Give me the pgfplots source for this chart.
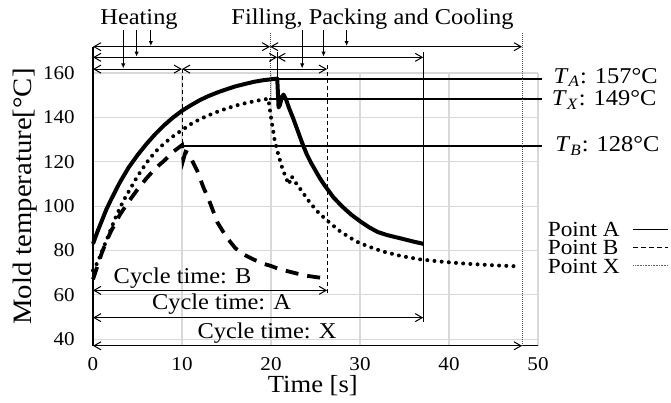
\documentclass[border=0pt]{standalone}
\usepackage{fontspec}
\setmainfont{Liberation Serif}[FakeStretch=1.08]
\usepackage{pgfplots}
\pgfplotsset{compat=1.18}
\usetikzlibrary{arrows.meta}
\newcommand\fs[1]{\fontsize{#1}{#1}\selectfont}

\tikzset{
  dim/.style={line width=0.5pt, {Straight Barb[length=3.5pt,width=4pt]}-{Straight Barb[length=3.5pt,width=4pt]}},
  down/.style={line width=0.5pt, -{Latex[length=2.5pt,width=2.2pt]}},
  lvl/.style={line width=0.8pt},
  ann/.style={font=\fs{11.3}, inner sep=0pt},
}

\begin{document}
\begin{tikzpicture}
\begin{axis}[
    scale only axis,
    width=222.5pt, height=136.35pt,
    xmin=0, xmax=50, ymin=37, ymax=160,
    xtick={0,10,...,50}, ytick={40,60,...,160},
    axis lines*=left,
    axis line style={line width=0.6pt},
    major tick length=0pt,
    grid=major,
    major grid style={black!15, line width=0.6pt},
    /pgf/number format/assume math mode=true,
    ticklabel style={font=\fs{9.75}},
    yticklabel style={inner sep=0pt, xshift=-9pt},
    xticklabel style={inner sep=0pt, yshift=-5.5pt},
    xlabel={Time [s]},
    xlabel style={at={(axis description cs:0.494,-0.145)}, anchor=center, font=\fs{12.3}, inner sep=0pt},
    ylabel={Mold temperature[°C]},
    ylabel style={at={(axis description cs:-0.1528,0.547)}, anchor=center, font=\fs{13.3}, inner sep=0pt},
    clip=false,
    legend style={draw=none, fill=none, at={(axis description cs:1.022,0.4545)}, anchor=north west,
      inner sep=0pt, outer sep=0pt, row sep=1.75pt, column sep=6.5pt, font=\fs{10.8},
      nodes={inner sep=0pt, text height=7.4pt, text depth=0pt}},
    legend plot pos=right,
    legend cell align=left,
    legend image code/.code={\draw[#1] (0pt,0pt) -- (17.5pt,0pt);},
  ]

  % bounding frame of the picture (671 x 402 px)
  \path (axis cs:-10.45,11.47) rectangle (axis cs:64.94,192.96);

  \addlegendimage{black, line width=0.7pt}
  \addlegendentry{Point A}
  \addlegendimage{black, line width=0.6pt, dash pattern=on 2.5pt off 1.5pt}
  \addlegendentry{Point B}
  \addlegendimage{black!60, line width=0.5pt, dash pattern=on 0.4pt off 0.4pt}
  \addlegendentry{Point X}

  % Point A
  \addplot[black, line width=2pt, line join=round, forget plot] coordinates {
    (0,83)(0.5,88.5)(1,93.5)(1.5,98.5)(2,102.7)(3,110.6)(4,117.4)(5,123)(6,128)
    (7,132.5)(8,136.5)(9,140)(10,143)(11,145.5)(12,147.8)(13,149.7)(14,151.3)
    (15,152.7)(16,154)(17,155)(18,156)(19,156.7)(20,157.2)(20.7,157.5)
    (20.85,144.5)(21.0,145.5)(21.2,149)(21.4,150.3)(21.7,148)(22.0,144.5)
    (22.5,139.5)(23,134)(23.5,128.5)(24,123.5)(24.5,119.5)(25,116)(25.5,112.5)
    (26,109.5)(27,104)(28,99.8)(29,96.2)(30,93.2)(31,90.5)(32,88.3)(33,87)
    (34,86)(35,85)(36,84)(37.1,83)
  };
  % Point B
  \addplot[black, line width=1.9pt, dash pattern=on 6.5pt off 4.5pt, forget plot] coordinates {
    (0,67)(0.5,73)(1,79)(1.5,84)(2,88.5)(3,96)(4,102)(5,107.5)(6,112.5)(7,117)
    (8,120.5)(9,124.5)(10,127.5)(10.15,121)(10.4,124.5)(10.7,124)(11.2,120)
    (11.7,116)(12.4,108.5)(13,103)(14,92.5)(15,86)(16,81)(17,78)(18,76)
    (19,74.2)(20,73)(21,71.5)(22,70.5)(23,69.5)(24,68.6)(25,68)(26,67.5)(26.3,67.3)
  };
  % Point X
  \addplot[black, line width=2pt, dash pattern=on 0pt off 3.6pt, line cap=round, forget plot] coordinates {
    (0,71)(0.5,74.5)(1,79.5)(1.5,84.5)(2,89.5)(2.5,94.5)(3,99)(3.5,103)(4,106.5)
    (5,113.5)(6,119.5)(7,124.5)(8,128.3)(9,131.5)(10,134.3)(11,137)(12,139.2)
    (13,141)(14,142.6)(15,144)(16,145.3)(17,146.3)(18,147.2)(19,148)(19.7,148.4)
    (20.0,140)(20.4,130)(20.8,123.5)(21.2,118)(21.6,113.5)(22.0,109.8)(22.3,113.5)
    (22.7,111)(23.5,106.5)(24.3,102)(25.1,98)(26.3,93.5)(27.8,88.5)(29.6,84)
    (31,81.7)(32.6,79.5)(34.5,77.6)(36.7,76)(39,75)(42,74)(45,73.3)(47.4,72.9)
  };

  % peak levels
  \draw[lvl] (axis cs:20.7,157.3) -- (axis cs:50.4,157.3);
  \draw[lvl] (axis cs:19.8,148.4) -- (axis cs:50.4,148.4);
  \draw[lvl] (axis cs:10,127) -- (axis cs:50.4,127);
  \node[ann, anchor=base west] at (axis cs:51.7,155.3) {\textit{T}\textsubscript{\textit{A}}: 157°C};
  \node[ann, anchor=base west] at (axis cs:51.5,145.2) {\textit{T}\textsubscript{\textit{X}}: 149°C};
  \node[ann, anchor=base west] at (axis cs:51.9,124.5) {\textit{T}\textsubscript{\textit{B}}: 128°C};

  % vertical markers
  \draw[line width=0.6pt] (axis cs:0,171.9) -- (axis cs:0,37);
  \draw[line width=0.5pt, dash pattern=on 2pt off 1.5pt] (axis cs:10,161.8) -- (axis cs:10,127);
  \draw[black!70, line width=0.5pt, dash pattern=on 0.5pt off 0.5pt] (axis cs:19.9,177.9) -- (axis cs:19.9,148.4);
  \draw[line width=0.6pt] (axis cs:20.7,169.6) -- (axis cs:20.7,157.3);
  \draw[line width=0.5pt, dash pattern=on 2pt off 1.5pt] (axis cs:26.3,163.6) -- (axis cs:26.3,60.1);
  \draw[line width=0.6pt] (axis cs:37.1,169.6) -- (axis cs:37.1,47.7);
  \draw[black!70, line width=0.5pt, dash pattern=on 0.5pt off 0.5pt] (axis cs:48.2,177.9) -- (axis cs:48.2,37);

  % phase arrows on top
  \draw[dim] (axis cs:0,171.9) -- (axis cs:19.9,171.9);
  \draw[dim] (axis cs:19.9,171.9) -- (axis cs:48.2,171.9);
  \draw[dim] (axis cs:0,167.1) -- (axis cs:20.7,167.1);
  \draw[dim] (axis cs:20.7,167.1) -- (axis cs:37.1,167.1);
  \draw[dim] (axis cs:0,161.8) -- (axis cs:10,161.8);
  \draw[dim] (axis cs:10,161.8) -- (axis cs:26.3,161.8);

  \node[ann, anchor=base] at (axis cs:5.17,181.7) {Heating};
  \node[ann, anchor=base] at (axis cs:31.4,181.7) {Filling, Packing and Cooling};
  \draw[down] (axis cs:3.4,179.4) -- (axis cs:3.4,162.1);
  \draw[down] (axis cs:4.9,179.4) -- (axis cs:4.9,167.4);
  \draw[down] (axis cs:6.5,179.4) -- (axis cs:6.5,172.2);
  \draw[down] (axis cs:23.5,179.4) -- (axis cs:23.5,162.1);
  \draw[down] (axis cs:25.9,179.4) -- (axis cs:25.9,167.4);
  \draw[down] (axis cs:28.5,179.4) -- (axis cs:28.5,172.2);

  % cycle times
  \draw[dim] (axis cs:0,62) -- (axis cs:26.3,62);
  \draw[dim] (axis cs:0,49.7) -- (axis cs:37.1,49.7);
  \draw[dim] (axis cs:0,37) -- (axis cs:48.2,37);
  \node[ann, anchor=base] at (axis cs:10.06,65.05) {Cycle time: B};
  \node[ann, anchor=base] at (axis cs:14.44,53.3) {Cycle time: A};
  \node[ann, anchor=base] at (axis cs:19.55,40.2) {Cycle time: X};

\end{axis}
\end{tikzpicture}
\end{document}
